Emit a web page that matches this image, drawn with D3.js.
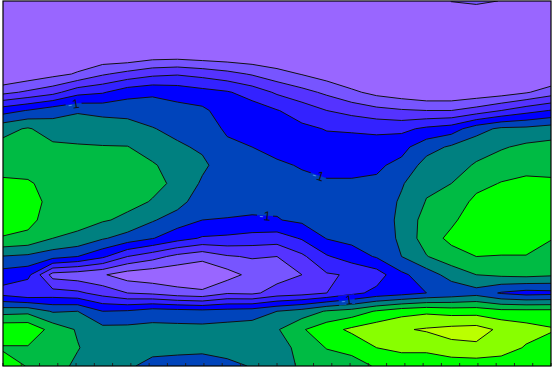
<!DOCTYPE html>
<html><head><meta charset="utf-8">
<script src="https://cdn.jsdelivr.net/npm/d3@7"></script>
<style>html,body{margin:0;padding:0;background:#fff;} svg{display:block;}</style>
</head><body>
<svg id="chart" width="553" height="367"></svg>
<script>
// grid size (columns x rows) of the sampled field
const nx = 23, ny = 21;
// contour levels (band units) and fill colours of each band, lowest first
const thresholds = [1, 2, 3, 4, 5, 6, 7, 8, 9, 10];
const bandColors = ["#9966ff", "#7755ff", "#5533ff", "#3322ff", "#0000ff", "#0044bb",
                    "#008080", "#00bb44", "#00ff00", "#88ff00", "#bbff00"];
// labelled contour and its label text
const labelLevel = 5;
const labelText = "1";
const labelSign = "-";
// approximate label anchors, in grid (column,row) units
const labelAnchors = [[2.81, 5.42], [12.65, 9.59], [10.52, 11.78], [13.81, 16.55]];
// minor tick positions along the bottom frame (in tick-index units)
const bottomTicks = d3.range(0, 31);

// field values, one array per grid row (top to bottom)
const row00 = [-0.5,-0.5,-0.5,-0.5,-0.5,-0.6,-0.6,-0.6,-0.6,-0.6,-0.6,-0.6,-0.6,-0.6,-0.5,-0.5,-0.5,-0.5,1.05,1.3,0.95,-0.4,-0.4];
const row01 = [-0.4,-0.4,-0.4,-0.3,-0.3,-0.4,-0.4,-0.4,-0.4,-0.4,-0.4,-0.4,-0.4,-0.4,-0.4,-0.4,-0.4,-0.4,-0.3,-0.3,-0.3,-0.3,-0.3];
const row02 = [-0.3,-0.2,-0.2,-0.1,0.0,0.0,0.0,0.0,0.0,-0.1,-0.1,-0.1,-0.2,-0.3,-0.3,-0.3,-0.3,-0.3,-0.3,-0.3,-0.3,-0.3,-0.3];
const row03 = [-0.2,0.0,0.1,0.3,0.2,0.17,0.5,0.55,0.4,0.3,0.2,0.1,0.0,-0.1,-0.2,-0.2,-0.25,-0.3,-0.3,-0.3,-0.3,-0.3,-0.2];
const row04 = [-0.1,0.3,0.7,1.1,1.875,2.33,2.75,2.9,2.67,2.33,1.9,1.38,0.95,0.5,0.1,-0.1,-0.2,-0.2,-0.2,-0.2,-0.2,-0.2,0.0];
const row05 = [1.725,2.17,2.66,3.65,3.9,4.6,4.83,4.65,4.35,4.1,3.57,2.85,2.33,1.8,1.2,0.7,0.4,0.1,0.1,0.3,0.5,0.9,1.5];
const row06 = [4.58,5.05,5.6,5.9,5.75,5.67,5.5,5.3,5.2,4.5,4.5,4.05,3.56,3.0,2.65,2.3,2.1,2.0,2.0,2.4,3.0,3.6,4.05];
const row07 = [6.675,7.1,6.5,6.5,6.45,6.4,6.05,5.73,5.5,4.85,4.7,4.45,4.2,3.95,3.9,3.8,3.75,4.2,4.5,5.6,6.2,6.25,6.5];
const row08 = [7.33,7.35,7.2,7.1,7.05,7.03,6.6,6.15,5.85,5.2,5.0,4.8,4.5,4.35,4.35,4.4,4.7,5.6,6.15,6.6,6.9,7.2,7.3];
const row09 = [7.6,7.65,7.5,7.4,7.35,7.3,7.1,6.6,6.2,5.45,5.25,5.1,4.95,4.75,4.75,4.85,5.25,6.4,6.6,7.1,7.5,7.65,7.7];
const row10 = [8.2,8.1,7.7,7.6,7.5,7.4,7.2,6.85,5.85,5.5,5.35,5.25,5.15,5.1,5.1,5.15,5.9,6.8,7.0,7.7,8.05,8.25,8.15];
const row11 = [8.5,8.4,7.7,7.55,7.4,7.25,6.95,6.4,5.4,5.35,5.25,5.2,5.2,5.25,5.3,5.35,6.15,7.05,7.4,8.25,8.5,8.6,8.45];
const row12 = [8.35,8.3,7.5,7.3,7.1,6.8,6.1,5.5,5.0,4.95,4.9,4.95,5.2,5.25,5.35,5.4,6.25,7.4,7.8,8.6,8.75,8.8,8.4];
const row13 = [7.95,7.75,7.0,6.8,6.1,5.6,5.05,4.4,3.9,3.8,3.6,3.5,4.1,5.05,5.3,5.35,6.2,7.5,8.25,8.55,8.6,8.6,8.05];
const row14 = [5.95,5.8,5.4,5.0,4.2,3.0,2.4,1.7,1.3,1.9,2.1,2.0,2.8,3.9,4.5,5.1,6.0,6.95,7.6,8.0,7.95,7.95,7.6];
const row15 = [4.54,4.3,1.6,1.4,1.1,0.5,0.3,0.2,0.15,0.6,1.3,1.6,2.0,2.9,3.1,3.5,4.8,5.5,6.4,7.0,7.2,7.3,7.15];
const row16 = [3.6,3.1,3.4,3.2,2.6,2.0,1.8,1.4,1.2,1.9,1.8,2.4,2.6,3.0,3.7,4.3,4.6,5.0,5.3,5.6,4.9,4.6,4.7];
const row17 = [6.6,6.7,5.9,6.0,5.0,5.1,5.5,5.4,5.3,5.4,5.5,6.0,6.4,7.1,7.4,8.1,8.6,8.8,8.6,8.6,8.3,8.3,8.3];
const row18 = [8.8,8.8,7.6,6.9,6.3,6.3,6.3,6.3,6.3,6.4,6.5,6.9,7.9,8.6,9.2,9.6,9.9,10.1,10.3,10.4,9.8,9.4,9.1];
const row19 = [7.9,7.9,7.6,7.05,6.5,6.35,6.2,6.2,6.15,6.3,6.5,6.6,7.3,8.05,8.3,9.0,9.3,9.3,9.75,9.8,9.5,8.9,8.5];
const row20 = [8.4,7.95,7.4,6.8,6.4,6.1,5.8,5.7,5.7,5.8,6.05,6.7,7.1,7.4,7.6,8.1,8.2,8.2,8.3,8.4,8.4,8.2,8.2];
const grid = [row00,row01,row02,row03,row04,row05,row06,row07,row08,row09,row10,
              row11,row12,row13,row14,row15,row16,row17,row18,row19,row20];
const values = grid.flat();

const plot = {left: 3, top: 1, right: 551, bottom: 366};
// scales from grid index to pixels
const xIdx = d3.scaleLinear().domain([0, nx - 1]).range([plot.left, plot.right]);
const yIdx = d3.scaleLinear().domain([0, ny - 1]).range([plot.top, plot.bottom]);
// d3.contours puts sample i at coordinate i+0.5
const proj = d3.geoTransform({point(x, y) { this.stream.point(xIdx(x - 0.5), yIdx(y - 0.5)); }});
const path = d3.geoPath(proj);

const contours = d3.contours().size([nx, ny]).thresholds(thresholds)(values);

const svg = d3.select("#chart");
const defs = svg.append("defs");
defs.append("clipPath").attr("id", "plotclip").append("rect")
  .attr("x", plot.left).attr("y", plot.top)
  .attr("width", plot.right - plot.left).attr("height", plot.bottom - plot.top);

const g = svg.append("g").attr("clip-path", "url(#plotclip)");
g.append("rect").attr("x", plot.left).attr("y", plot.top)
  .attr("width", plot.right - plot.left).attr("height", plot.bottom - plot.top)
  .attr("fill", bandColors[0]);

g.append("g").selectAll("path").data(contours).join("path")
  .attr("d", path).attr("fill", (d, i) => bandColors[i + 1]).attr("stroke", "none");

// label placement on the labelled contour
const lc = contours.find(c => c.value === labelLevel);
const rings = [];
lc.coordinates.forEach(poly => poly.forEach(ring => {
  rings.push(ring.map(p => ({x: xIdx(p[0] - 0.5), y: yIdx(p[1] - 0.5), edge: p[0] <= 0 || p[0] >= nx || p[1] <= 0 || p[1] >= ny})));
}));
const labels = labelAnchors.map(a => {
  const ax = xIdx(a[0]), ay = yIdx(a[1]);
  let best = null, bdd = Infinity;
  rings.forEach(r => {
    for (let i = 0; i < r.length - 1; i++) {
      const A = r[i], B = r[i + 1];
      if (A.edge || B.edge) continue;
      const vx = B.x - A.x, vy = B.y - A.y, L = vx * vx + vy * vy || 1;
      let t = ((ax - A.x) * vx + (ay - A.y) * vy) / L; t = Math.max(0, Math.min(1, t));
      const qx = A.x + t * vx, qy = A.y + t * vy, dd = (qx - ax) ** 2 + (qy - ay) ** 2;
      if (dd < bdd) { bdd = dd; best = {x: qx, y: qy, vx, vy}; }
    }
  });
  let ang = Math.atan2(best.vy, best.vx) * 180 / Math.PI;
  if (ang > 90) ang -= 180;
  if (ang < -90) ang += 180;
  return {x: best.x, y: best.y, a: ang};
});

const mask = defs.append("mask").attr("id", "lblmask").attr("maskUnits", "userSpaceOnUse")
  .attr("x", 0).attr("y", 0).attr("width", 553).attr("height", 367);
mask.append("rect").attr("x", 0).attr("y", 0).attr("width", 553).attr("height", 367).attr("fill", "white");
mask.selectAll("rect.hole").data(labels).join("rect").attr("class", "hole")
  .attr("x", -8).attr("y", -5).attr("width", 16).attr("height", 10).attr("fill", "black")
  .attr("transform", d => `translate(${d.x},${d.y}) rotate(${d.a})`);

g.append("g").attr("mask", "url(#lblmask)").selectAll("path").data(contours).join("path")
  .attr("d", path).attr("fill", "none").attr("stroke", "#111").attr("stroke-width", 1);

const lt = g.append("g").selectAll("text").data(labels).join("text")
  .attr("transform", d => `translate(${d.x},${d.y}) rotate(${d.a})`)
  .attr("text-anchor", "middle").attr("dy", "0.36em")
  .attr("font-family", "Liberation Sans, DejaVu Sans, sans-serif").attr("font-size", 13);
lt.append("tspan").attr("fill", "#4d88e6").text(labelSign);
lt.append("tspan").attr("fill", "#111").text(labelText);

// small ticks on the bottom frame
const tickX = d3.scaleLinear().domain([0, 30]).range([plot.left, plot.right]);
svg.append("g").selectAll("line").data(bottomTicks).join("line")
  .attr("x1", d => tickX(d)).attr("x2", d => tickX(d))
  .attr("y1", plot.bottom).attr("y2", plot.bottom - 3)
  .attr("stroke", "#222").attr("stroke-width", 1);

svg.append("rect").attr("x", plot.left).attr("y", plot.top)
  .attr("width", plot.right - plot.left).attr("height", plot.bottom - plot.top)
  .attr("fill", "none").attr("stroke", "#000").attr("stroke-width", 1.2);
</script>
</body></html>
